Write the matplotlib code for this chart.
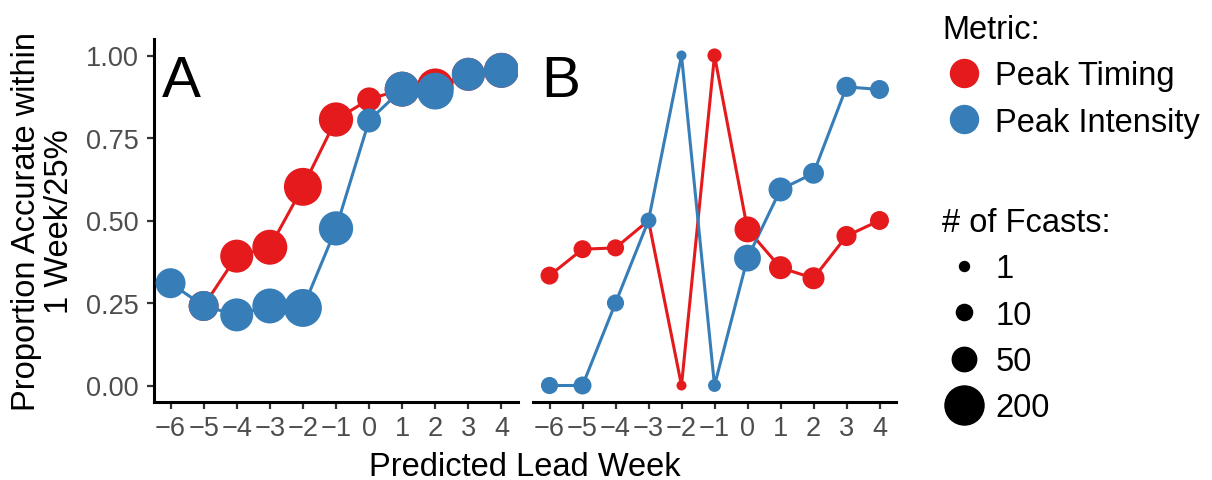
import numpy as np
import matplotlib
matplotlib.use("Agg")
import matplotlib.pyplot as plt
from matplotlib.lines import Line2D

plt.rcParams['font.family'] = ['Liberation Sans', 'DejaVu Sans']

# ---------------- data ----------------
lead_weeks = [-6, -5, -4, -3, -2, -1, 0, 1, 2, 3, 4]

# Panel A
a_timing_x = [-5, -4, -3, -2, -1, 0, 1, 2, 3, 4]
a_timing_y = [0.241, 0.392, 0.419, 0.602, 0.806, 0.867, 0.898, 0.905, 0.943, 0.955]
a_timing_n = [95, 126, 148, 185, 140, 47, 148, 170, 126, 148]
a_intens_x = [-6, -5, -4, -3, -2, -1, 0, 1, 2, 3, 4]
a_intens_y = [0.31, 0.241, 0.214, 0.241, 0.235, 0.476, 0.803, 0.898, 0.892, 0.943, 0.955]
a_intens_n = [95, 95, 126, 148, 185, 140, 47, 148, 170, 126, 148]

# Panel B
b_timing_x = [-6, -5, -4, -3, -2, -1, 0, 1, 2, 3, 4]
b_timing_y = [0.333, 0.413, 0.417, 0.5, 0.0, 1.0, 0.473, 0.357, 0.325, 0.453, 0.5]
b_timing_n = [16, 16, 13, 6, 1, 5, 61, 41, 35, 25, 20]
b_intens_x = [-6, -5, -4, -3, -2, -1, 0, 1, 2, 3, 4]
b_intens_y = [0.0, 0.0, 0.25, 0.5, 1.0, 0.0, 0.386, 0.594, 0.643, 0.905, 0.897]
b_intens_n = [13, 16, 13, 9, 1, 3, 68, 47, 29, 25, 20]

size_breaks = [1, 10, 50, 200]
metric_labels = ["Peak Timing", "Peak Intensity"]
y_ticks = [0.0, 0.25, 0.5, 0.75, 1.0]
y_ticklabels = ["0.00", "0.25", "0.50", "0.75", "1.00"]

RED = "#E41A1C"
BLUE = "#377EB8"
W, H = 1212, 481
DPI = 100
PX = 72.0 / DPI  # points per pixel


def diam_px(n):
    return 10 + 2.06 * np.sqrt(np.asarray(n, dtype=float) - 1)


def area(n):
    return (diam_px(n) * PX) ** 2


fig = plt.figure(figsize=(W / DPI, H / DPI), dpi=DPI)
axA = fig.add_axes([154 / W, (H - 403) / H, 364 / W, 363 / H])
axB = fig.add_axes([533 / W, (H - 403) / H, 363 / W, 363 / H])

panels = [
    (axA, a_timing_x, a_timing_y, a_timing_n, a_intens_x, a_intens_y, a_intens_n, "A"),
    (axB, b_timing_x, b_timing_y, b_timing_n, b_intens_x, b_intens_y, b_intens_n, "B"),
]

for ax, tx, ty, tn, ix, iy, inn, lab in panels:
    ax.plot(tx, ty, color=RED, lw=2.2, zorder=2)
    ax.plot(ix, iy, color=BLUE, lw=2.2, zorder=2)
    ax.scatter(tx, ty, s=area(tn), color=RED, edgecolors='none', zorder=3)
    ax.scatter(ix, iy, s=area(inn), color=BLUE, edgecolors='none', zorder=4)
    ax.set_xlim(-6.5, 4.5)
    ax.set_ylim(-0.05, 1.05)
    ax.set_xticks(lead_weeks)
    ax.set_xticklabels([str(v).replace('-', '\u2212') for v in lead_weeks])
    for side in ['top', 'right']:
        ax.spines[side].set_visible(False)
    ax.spines['bottom'].set_linewidth(2.2)
    ax.spines['left'].set_linewidth(2.2)
    ax.tick_params(axis='both', colors='#333333', width=1.6, length=5,
                   labelsize=19.5, labelcolor='#4D4D4D')
    ax.tick_params(axis='y', pad=5.8)
    ax.tick_params(axis='x', pad=4.5)
    ax.text(0.022, 0.843, lab, transform=ax.transAxes, fontsize=42,
            ha='left', va='baseline', color='black')
    ax.set_facecolor('none')

axA.set_yticks(y_ticks)
axA.set_yticklabels(y_ticklabels)
axB.spines['left'].set_visible(False)
axB.set_yticks([])

fig.text(43 / W, 1 - 221.5 / H, "Proportion Accurate within\n1 Week/25%",
         rotation=90, ha='center', va='center', fontsize=23.5,
         multialignment='center', linespacing=1.05)
fig.text(525 / W, 1 - 476 / H, "Predicted Lead Week", ha='center',
         va='baseline', fontsize=23.5)

# Legends
metric_handles = [
    Line2D([], [], marker='o', linestyle='none', color=RED, markersize=28 * PX),
    Line2D([], [], marker='o', linestyle='none', color=BLUE, markersize=28 * PX),
]
leg1 = fig.legend(metric_handles, metric_labels, title="Metric:",
                  loc='upper left', bbox_to_anchor=(942 / W, 1 - 15 / H),
                  frameon=False, fontsize=23.5, title_fontsize=23.5,
                  alignment='left', handlelength=1.33, handletextpad=0.3,
                  labelspacing=0.47, borderpad=0, borderaxespad=0)

size_handles = [Line2D([], [], marker='o', linestyle='none', color='black',
                       markersize=float(diam_px(n)) * PX) for n in size_breaks]
leg2 = fig.legend(size_handles, [str(n) for n in size_breaks], title="# of Fcasts:",
                  loc='upper left', bbox_to_anchor=(942 / W, 1 - 208 / H),
                  frameon=False, fontsize=23.5, title_fontsize=23.5,
                  alignment='left', handlelength=1.33, handletextpad=0.3,
                  labelspacing=0.47, borderpad=0, borderaxespad=0)

fig.savefig("out.png", dpi=DPI)
